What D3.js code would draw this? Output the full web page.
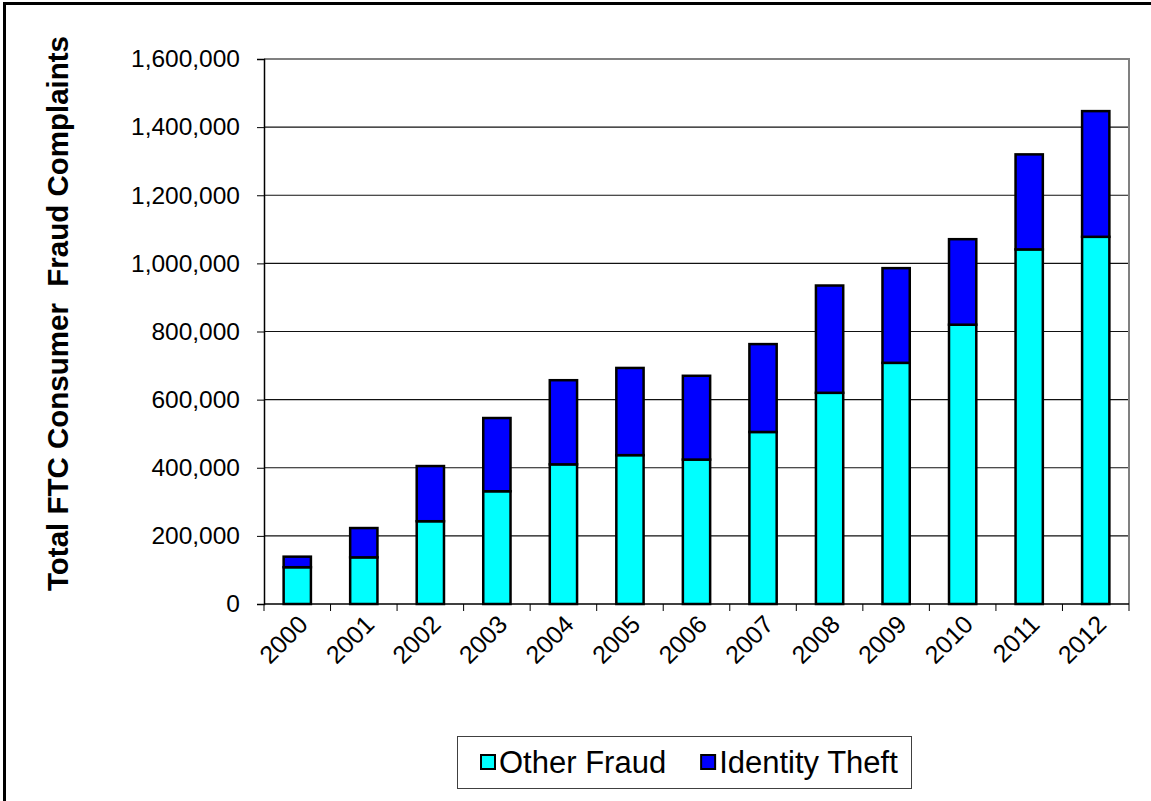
<!DOCTYPE html>
<html>
<head>
<meta charset="utf-8">
<script src="https://cdn.jsdelivr.net/npm/d3@7"></script>
<style>
  body { margin: 0; background: #fff; }
  text { font-family: "Liberation Sans", Arial, sans-serif; fill: #000; }
</style>
</head>
<body>
<div id="chart"></div>
<script>
// values
var years = ["2000", "2001", "2002", "2003", "2004", "2005", "2006",
             "2007", "2008", "2009", "2010", "2011", "2012"];
var otherFraud = [108000, 137000, 243000, 331000, 410000, 437000, 424000,
                  505000, 620000, 708000, 820000, 1041000, 1078000];
var identityTheft = [31000, 86000, 162000, 215000, 247000, 256000, 246000,
                     258000, 315000, 278000, 251000, 279000, 369000];
var yTicks = [0, 200000, 400000, 600000, 800000, 1000000, 1200000, 1400000, 1600000];
var seriesNames = ["Other Fraud", "Identity Theft"];
var seriesColors = ["#00ffff", "#0000ff"];

var svg = d3.select("#chart")
            .append("svg")
            .attr("width", 1151)
            .attr("height", 801);

var plot = {left: 264, right: 1129, top: 59, bottom: 604};

var x = d3.scaleBand().domain(years).range([plot.left, plot.right]);
var y = d3.scaleLinear().domain([0, 1600000]).range([plot.bottom, plot.top]);
var barW = x.bandwidth() * 0.41;

// outer frame (only top and left edges are visible)
svg.append("path")
   .attr("d", "M4.5,801V3.5H1151")
   .attr("fill", "none")
   .attr("stroke", "#000")
   .attr("stroke-width", 3);

// gridlines
svg.selectAll("line.grid")
   .data(yTicks.slice(1, -1))
   .enter()
   .append("line")
   .attr("class", "grid")
   .attr("x1", plot.left).attr("x2", plot.right)
   .attr("y1", function(d) { return y(d); })
   .attr("y2", function(d) { return y(d); })
   .attr("stroke", "#111")
   .attr("stroke-width", 1.2);

// plot border top/right in gray
svg.append("path")
   .attr("d", "M" + plot.left + "," + y(1600000) + "H" + plot.right + "V" + plot.bottom)
   .attr("fill", "none")
   .attr("stroke", "#808080")
   .attr("stroke-width", 2);

// y axis
var yAxis = d3.axisLeft(y)
              .tickValues(yTicks)
              .tickSize(7)
              .tickPadding(17)
              .tickFormat(d3.format(","));
var gy = svg.append("g")
            .attr("transform", "translate(" + plot.left + ",0)")
            .call(yAxis);
gy.select(".domain").attr("stroke", "#000").attr("stroke-width", 1.5);
gy.selectAll(".tick line").attr("stroke", "#000");
gy.selectAll("text")
  .style("font-size", "24.5px")
  .style("font-family", "Liberation Sans, Arial, sans-serif");

// stacked bars
var stackData = years.map(function(yr, i) {
  return {year: yr, other: otherFraud[i], id: identityTheft[i]};
});
var stacked = d3.stack().keys(["other", "id"])(stackData);

svg.selectAll("g.series")
   .data(stacked)
   .enter()
   .append("g")
   .attr("class", "series")
   .attr("fill", function(d, i) { return seriesColors[i]; })
   .selectAll("rect")
   .data(function(d) { return d; })
   .enter()
   .append("rect")
   .attr("x", function(d) { return x(d.data.year) + (x.bandwidth() - barW) / 2; })
   .attr("width", barW)
   .attr("y", function(d) { return y(d[1]); })
   .attr("height", function(d) { return y(d[0]) - y(d[1]); })
   .attr("stroke", "#000")
   .attr("stroke-width", 2.5);

// x axis
svg.append("line")
   .attr("x1", plot.left).attr("x2", plot.right)
   .attr("y1", plot.bottom).attr("y2", plot.bottom)
   .attr("stroke", "#000")
   .attr("stroke-width", 1.5);

var bounds = years.map(function(d) { return x(d); }).concat([plot.right]);
svg.selectAll("line.xtick")
   .data(bounds)
   .enter()
   .append("line")
   .attr("class", "xtick")
   .attr("x1", function(d) { return d; })
   .attr("x2", function(d) { return d; })
   .attr("y1", plot.bottom)
   .attr("y2", plot.bottom + 7)
   .attr("stroke", "#000");

svg.selectAll("text.xlabel")
   .data(years)
   .enter()
   .append("text")
   .attr("class", "xlabel")
   .attr("text-anchor", "end")
   .attr("transform", function(d) {
     return "translate(" + (x(d) + x.bandwidth() / 2 + 12) + "," + (plot.bottom + 22) + ") rotate(-45)";
   })
   .style("font-size", "25px")
   .text(function(d) { return d; });

// y title
svg.append("text")
   .attr("transform", "translate(68," + ((plot.top + plot.bottom) / 2 - 18) + ") rotate(-90)")
   .attr("text-anchor", "middle")
   .style("font-size", "29.5px")
   .style("font-weight", "bold")
   .attr("xml:space", "preserve")
   .text("Total FTC Consumer  Fraud Complaints");

// legend
var legend = svg.append("g");
var lx = 481, ly = 762;
seriesNames.forEach(function(name, i) {
  var item = legend.append("g").attr("transform", "translate(" + lx + "," + ly + ")");
  item.append("rect")
      .attr("x", 0).attr("y", -7)
      .attr("width", 14).attr("height", 14)
      .attr("fill", seriesColors[i])
      .attr("stroke", "#000")
      .attr("stroke-width", 2);
  var t = item.append("text")
      .attr("x", 18).attr("y", 11)
      .style("font-size", "31px")
      .text(name);
  lx += 18 + t.node().getComputedTextLength() + 35;
});
legend.insert("rect", ":first-child")
      .attr("x", 457.5).attr("y", 736.5)
      .attr("width", 454).attr("height", 52)
      .attr("fill", "#fff")
      .attr("stroke", "#404040")
      .attr("stroke-width", 1);
</script>
</body>
</html>
